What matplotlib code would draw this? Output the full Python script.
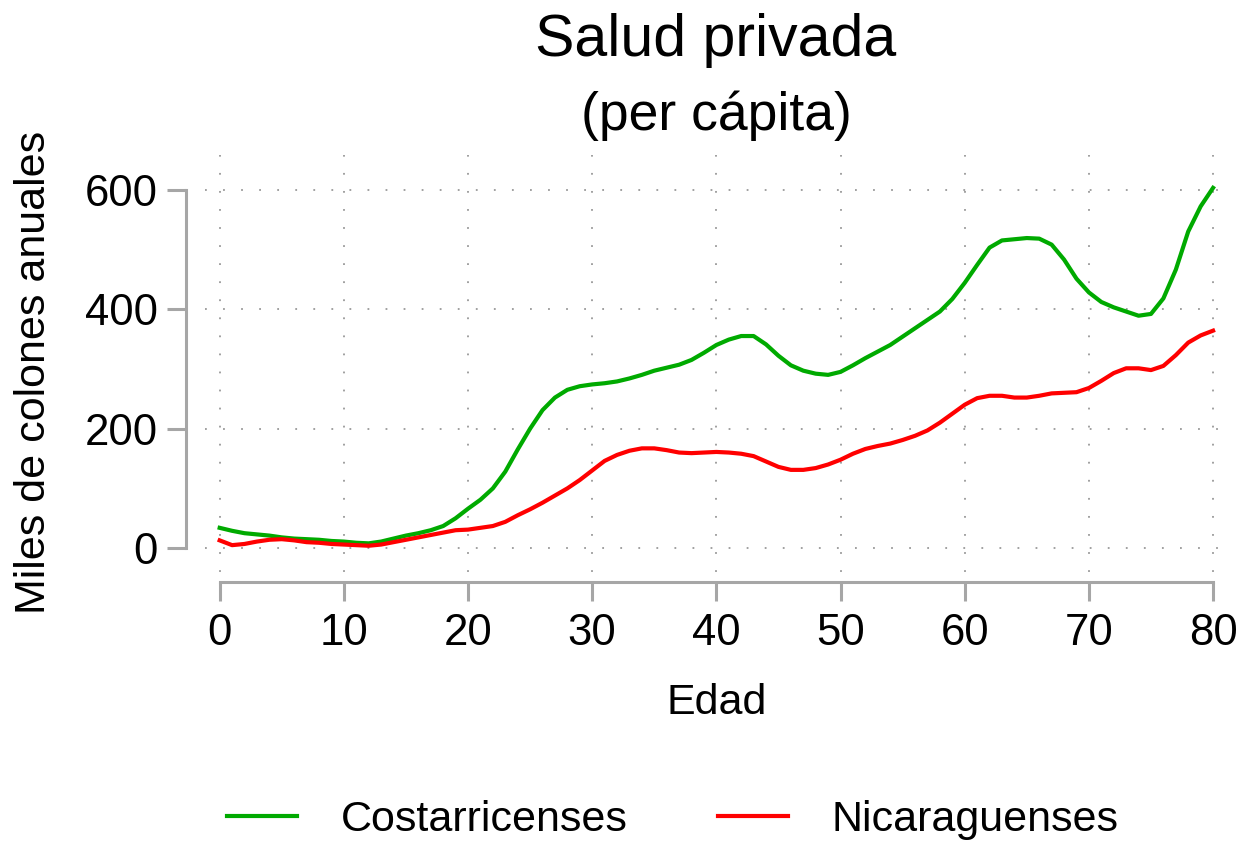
import matplotlib
matplotlib.use("Agg")
import matplotlib.pyplot as plt
import numpy as np

# Edad (0 a 80)
edad = list(range(0, 81))

# Gasto en salud privada per cápita, miles de colones anuales
costarricenses = [34, 29, 25, 23, 21, 18, 16, 15, 14, 12,
                  11, 9, 8, 11, 16, 21, 25, 30, 37, 50,
                  66, 81, 100, 128, 165, 200, 231, 252, 265, 271,
                  274, 276, 279, 284, 290, 297, 302, 307, 315, 327,
                  340, 349, 355, 355, 341, 322, 306, 297, 292, 290,
                  295, 306, 318, 329, 340, 354, 368, 382, 396, 417,
                  444, 474, 503, 515, 517, 519, 518, 508, 483, 451,
                  428, 412, 403, 396, 389, 392, 418, 466, 530, 572,
                  603]
nicaraguenses = [13, 5, 7, 11, 14, 15, 13, 10, 9, 7,
                 6, 5, 4, 6, 10, 14, 18, 22, 26, 30,
                 31, 34, 37, 44, 55, 65, 76, 88, 100, 114,
                 130, 146, 156, 163, 167, 167, 164, 160, 159, 160,
                 161, 160, 158, 154, 145, 136, 131, 131, 134, 140,
                 148, 158, 166, 171, 175, 181, 188, 197, 210, 225,
                 240, 251, 255, 255, 252, 252, 255, 259, 260, 261,
                 268, 280, 293, 301, 301, 298, 305, 323, 344, 356,
                 364]

xticks = [0, 10, 20, 30, 40, 50, 60, 70, 80]
yticks = [0, 200, 400, 600]

plt.rcParams['font.family'] = ['Liberation Sans', 'DejaVu Sans']

fig = plt.figure(figsize=(12.41, 8.41), dpi=100)
ax = fig.add_axes([0.165, 0.2985, 0.8245, 0.5172])

ax.plot(edad, costarricenses, color='#00aa00', lw=3, label='Costarricenses')
ax.plot(edad, nicaraguenses, color='#ff0000', lw=3, label='Nicaraguenses')

ax.set_xlim(-1.2, 81.2)
ax.set_ylim(-70, 658)

# grilla punteada gris
ax.set_xticks(xticks)
ax.set_yticks(yticks)
ax.grid(True, color='#999999', linestyle=(0, (1, 9)), linewidth=1.3)

# ejes separados estilo R
for s in ['top', 'right']:
    ax.spines[s].set_visible(False)
ax.spines['left'].set_position(('data', -2.74))
ax.spines['bottom'].set_position(('data', -57))
ax.spines['left'].set_bounds(0, 600)
ax.spines['bottom'].set_bounds(0, 80)
for s in ['left', 'bottom']:
    ax.spines[s].set_color('#a6a6a6')
    ax.spines[s].set_linewidth(2.2)
ax.tick_params(axis='both', colors='#a6a6a6', width=2.2, length=14,
               labelsize=31.5, labelcolor='black')
ax.tick_params(axis='x', pad=8)
ax.tick_params(axis='y', pad=6)

ax.set_xlabel('Edad', fontsize=31, labelpad=21)
ax.set_ylabel('Miles de colones anuales', fontsize=31, labelpad=22)

fig.text(0.577, 0.952, 'Salud privada', ha='center', va='center', fontsize=42.5)
fig.text(0.577, 0.862, '(per cápita)', ha='center', va='center', fontsize=38.5)

fig.legend(loc='center', bbox_to_anchor=(0.542, 0.025), ncol=2, frameon=False,
           fontsize=31, handlelength=1.63, columnspacing=2.1, handletextpad=1.0)

fig.savefig('out.png', dpi=100)
